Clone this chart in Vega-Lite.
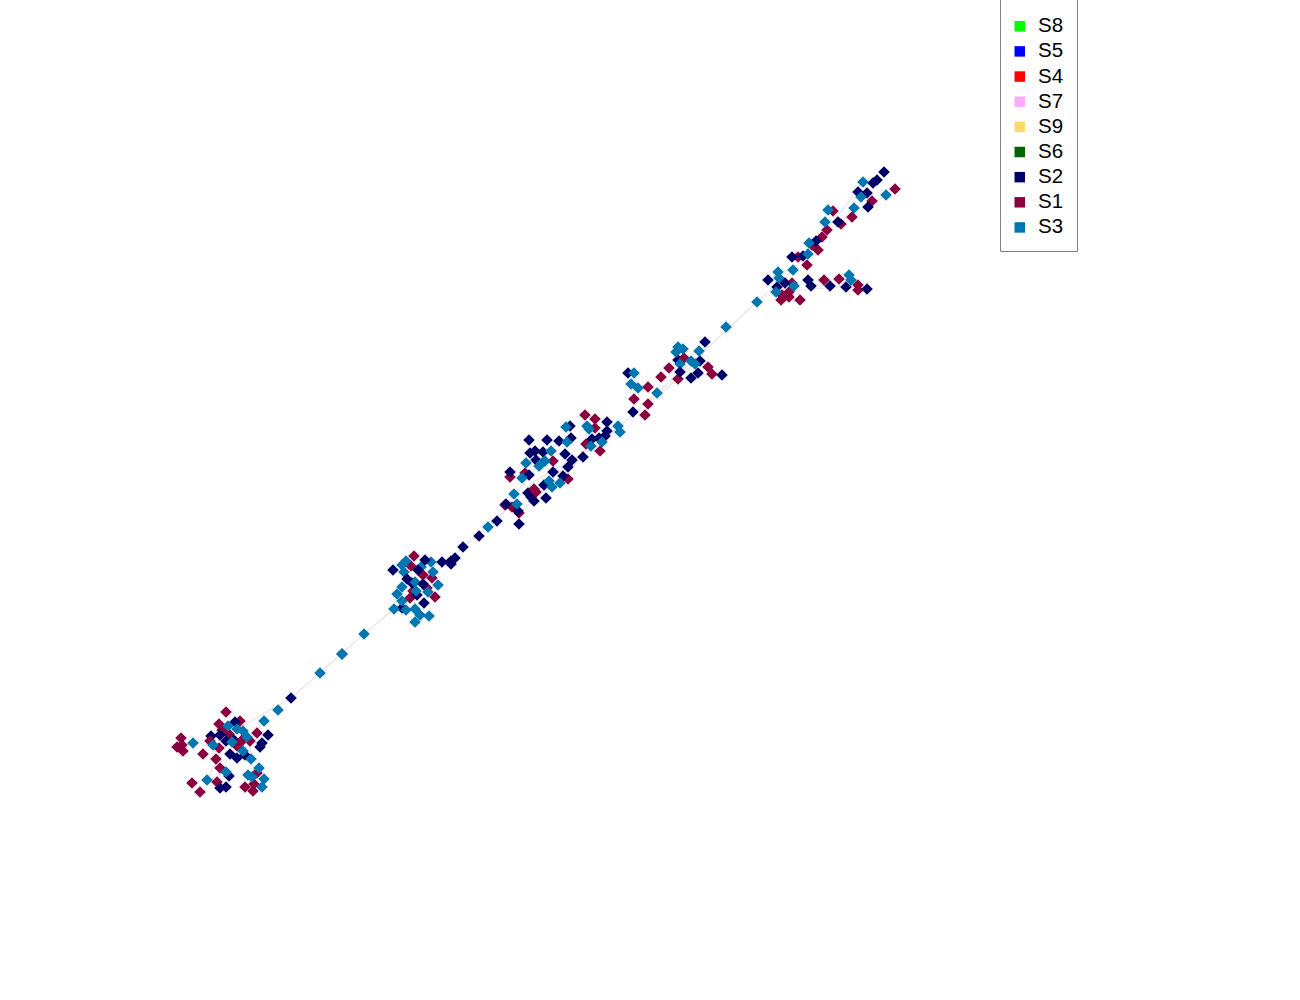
{"$schema":"https://vega.github.io/schema/vega-lite/v6.json","width":1300,"height":1000,"padding":0,"autosize":{"type":"none"},"background":"white","view":{"stroke":null},
"datasets":{"edges":[
{"x":193,"y":743,"x2":237,"y2":729},{"x":237,"y":729,"x2":291,"y2":698},{"x":291,"y":698,"x2":320,"y2":673},{"x":320,"y":673,"x2":364,"y2":634},{"x":364,"y":634,"x2":394,"y2":609},{"x":394,"y":609,"x2":423,"y2":584},{"x":423,"y":584,"x2":463,"y2":547},{"x":463,"y":547,"x2":506,"y2":510},{"x":506,"y":510,"x2":536,"y2":480},{"x":536,"y":480,"x2":602,"y2":442},{"x":602,"y":442,"x2":657,"y2":393},{"x":657,"y":393,"x2":700,"y2":355},{"x":700,"y":355,"x2":757,"y2":302},{"x":757,"y":302,"x2":793,"y2":270},{"x":793,"y":270,"x2":827,"y2":230},{"x":827,"y":230,"x2":868,"y2":207},{"x":868,"y":207,"x2":895,"y2":189},{"x":827,"y":230,"x2":863,"y2":182},{"x":863,"y":182,"x2":884,"y2":172},
{"x":193,"y":743,"x2":177,"y2":747},{"x":250,"y":741,"x2":251,"y2":759},{"x":251,"y":759,"x2":254,"y2":784},{"x":226,"y":741,"x2":207,"y2":780},{"x":207,"y":780,"x2":192,"y2":783},{"x":230,"y":754,"x2":217,"y2":782},{"x":243,"y":751,"x2":264,"y2":721},{"x":418,"y":570,"x2":451,"y2":561},{"x":402,"y":601,"x2":423,"y2":584},{"x":506,"y":505,"x2":559,"y2":441},{"x":519,"y":513,"x2":583,"y2":457},{"x":553,"y":472,"x2":620,"y2":432},{"x":533,"y":495,"x2":607,"y2":431},{"x":648,"y":404,"x2":698,"y2":361},{"x":678,"y":379,"x2":712,"y2":374},{"x":634,"y":373,"x2":638,"y2":388},{"x":780,"y":292,"x2":858,"y2":285},{"x":776,"y":292,"x2":808,"y2":280},{"x":808,"y":280,"x2":851,"y2":280},{"x":785,"y":283,"x2":846,"y2":287},{"x":846,"y":287,"x2":867,"y2":289}
],
"nodes":[
{"x":226,"y":712,"s":"S1"},{"x":219,"y":724,"s":"S1"},{"x":240,"y":721,"s":"S1"},{"x":229,"y":734,"s":"S1"},{"x":222,"y":730,"s":"S1"},{"x":257,"y":733,"s":"S1"},{"x":181,"y":738,"s":"S1"},{"x":177,"y":747,"s":"S1"},{"x":183,"y":751,"s":"S1"},{"x":182,"y":745,"s":"S1"},{"x":219,"y":748,"s":"S1"},{"x":203,"y":754,"s":"S1"},{"x":216,"y":759,"s":"S1"},{"x":220,"y":768,"s":"S1"},{"x":217,"y":782,"s":"S1"},{"x":192,"y":783,"s":"S1"},{"x":200,"y":792,"s":"S1"},{"x":245,"y":787,"s":"S1"},{"x":257,"y":773,"s":"S1"},{"x":254,"y":784,"s":"S1"},{"x":253,"y":791,"s":"S1"},
{"x":291,"y":698,"s":"S2"},{"x":268,"y":735,"s":"S2"},{"x":235,"y":722,"s":"S2"},{"x":211,"y":736,"s":"S2"},{"x":220,"y":735,"s":"S2"},{"x":226,"y":741,"s":"S2"},{"x":234,"y":740,"s":"S2"},{"x":262,"y":743,"s":"S2"},{"x":260,"y":747,"s":"S2"},{"x":230,"y":754,"s":"S2"},{"x":237,"y":758,"s":"S2"},{"x":245,"y":755,"s":"S2"},{"x":229,"y":776,"s":"S2"},{"x":220,"y":788,"s":"S2"},{"x":226,"y":787,"s":"S2"},
{"x":210,"y":741,"s":"S1"},{"x":242,"y":740,"s":"S1"},{"x":237,"y":746,"s":"S1"},{"x":240,"y":743,"s":"S1"},{"x":250,"y":741,"s":"S1"},
{"x":278,"y":710,"s":"S3"},{"x":264,"y":721,"s":"S3"},{"x":228,"y":726,"s":"S3"},{"x":237,"y":729,"s":"S3"},{"x":243,"y":731,"s":"S3"},{"x":193,"y":743,"s":"S3"},{"x":213,"y":745,"s":"S3"},{"x":232,"y":742,"s":"S3"},{"x":247,"y":737,"s":"S3"},{"x":243,"y":751,"s":"S3"},{"x":251,"y":759,"s":"S3"},{"x":226,"y":772,"s":"S3"},{"x":259,"y":768,"s":"S3"},{"x":248,"y":775,"s":"S3"},{"x":252,"y":777,"s":"S3"},{"x":264,"y":779,"s":"S3"},{"x":262,"y":787,"s":"S3"},{"x":207,"y":780,"s":"S3"},
{"x":342,"y":654,"s":"S2"},{"x":320,"y":673,"s":"S3"},{"x":342,"y":654,"s":"S3"},{"x":364,"y":634,"s":"S3"},
{"x":414,"y":556,"s":"S1"},{"x":411,"y":566,"s":"S1"},{"x":432,"y":578,"s":"S1"},{"x":423,"y":575,"s":"S1"},{"x":413,"y":591,"s":"S1"},{"x":427,"y":588,"s":"S1"},{"x":410,"y":598,"s":"S1"},{"x":435,"y":597,"s":"S1"},
{"x":519,"y":524,"s":"S2"},{"x":497,"y":521,"s":"S2"},{"x":479,"y":536,"s":"S2"},{"x":463,"y":547,"s":"S2"},{"x":455,"y":558,"s":"S2"},{"x":451,"y":561,"s":"S2"},{"x":451,"y":564,"s":"S2"},{"x":442,"y":562,"s":"S2"},{"x":393,"y":570,"s":"S2"},{"x":402,"y":608,"s":"S2"},{"x":417,"y":595,"s":"S2"},{"x":412,"y":583,"s":"S2"},
{"x":488,"y":527,"s":"S3"},{"x":406,"y":561,"s":"S3"},{"x":402,"y":565,"s":"S3"},{"x":431,"y":562,"s":"S3"},{"x":421,"y":567,"s":"S3"},{"x":433,"y":572,"s":"S3"},{"x":404,"y":572,"s":"S3"},{"x":415,"y":582,"s":"S3"},{"x":438,"y":585,"s":"S3"},{"x":402,"y":587,"s":"S3"},{"x":416,"y":591,"s":"S3"},{"x":428,"y":592,"s":"S3"},{"x":397,"y":594,"s":"S3"},{"x":402,"y":601,"s":"S3"},{"x":394,"y":609,"s":"S3"},{"x":406,"y":610,"s":"S3"},{"x":415,"y":609,"s":"S3"},{"x":420,"y":615,"s":"S3"},{"x":429,"y":616,"s":"S3"},{"x":415,"y":622,"s":"S3"},
{"x":425,"y":560,"s":"S2"},{"x":418,"y":570,"s":"S2"},{"x":407,"y":579,"s":"S2"},{"x":423,"y":584,"s":"S2"},{"x":424,"y":603,"s":"S2"},
{"x":585,"y":415,"s":"S1"},{"x":595,"y":419,"s":"S1"},{"x":595,"y":428,"s":"S1"},{"x":586,"y":444,"s":"S1"},{"x":600,"y":451,"s":"S1"},{"x":553,"y":461,"s":"S1"},{"x":510,"y":477,"s":"S1"},{"x":525,"y":473,"s":"S1"},{"x":568,"y":479,"s":"S1"},{"x":512,"y":507,"s":"S1"},{"x":519,"y":513,"s":"S1"},{"x":505,"y":505,"s":"S1"},
{"x":510,"y":472,"s":"S2"},{"x":607,"y":422,"s":"S2"},{"x":607,"y":431,"s":"S2"},{"x":605,"y":436,"s":"S2"},{"x":599,"y":438,"s":"S2"},{"x":592,"y":439,"s":"S2"},{"x":583,"y":457,"s":"S2"},{"x":570,"y":426,"s":"S2"},{"x":571,"y":438,"s":"S2"},{"x":559,"y":441,"s":"S2"},{"x":547,"y":440,"s":"S2"},{"x":529,"y":440,"s":"S2"},{"x":530,"y":453,"s":"S2"},{"x":535,"y":451,"s":"S2"},{"x":543,"y":452,"s":"S2"},{"x":565,"y":454,"s":"S2"},{"x":572,"y":460,"s":"S2"},{"x":568,"y":467,"s":"S2"},{"x":536,"y":460,"s":"S2"},{"x":553,"y":472,"s":"S2"},{"x":529,"y":475,"s":"S2"},{"x":563,"y":476,"s":"S2"},{"x":544,"y":485,"s":"S2"},{"x":528,"y":493,"s":"S2"},{"x":531,"y":497,"s":"S2"},{"x":534,"y":501,"s":"S2"},{"x":546,"y":498,"s":"S2"},{"x":506,"y":504,"s":"S2"},{"x":518,"y":511,"s":"S2"},
{"x":534,"y":489,"s":"S1"},{"x":536,"y":492,"s":"S1"},
{"x":618,"y":426,"s":"S3"},{"x":620,"y":432,"s":"S3"},{"x":587,"y":426,"s":"S3"},{"x":589,"y":429,"s":"S3"},{"x":602,"y":442,"s":"S3"},{"x":591,"y":446,"s":"S3"},{"x":566,"y":427,"s":"S3"},{"x":567,"y":442,"s":"S3"},{"x":551,"y":451,"s":"S3"},{"x":526,"y":463,"s":"S3"},{"x":545,"y":461,"s":"S3"},{"x":539,"y":466,"s":"S3"},{"x":542,"y":463,"s":"S3"},{"x":522,"y":478,"s":"S3"},{"x":549,"y":481,"s":"S3"},{"x":552,"y":487,"s":"S3"},{"x":560,"y":483,"s":"S3"},{"x":514,"y":494,"s":"S3"},{"x":517,"y":504,"s":"S3"},
{"x":633,"y":412,"s":"S2"},{"x":705,"y":342,"s":"S2"},{"x":678,"y":360,"s":"S2"},{"x":700,"y":361,"s":"S2"},{"x":628,"y":373,"s":"S2"},
{"x":684,"y":358,"s":"S1"},{"x":669,"y":368,"s":"S1"},{"x":708,"y":367,"s":"S1"},{"x":712,"y":374,"s":"S1"},{"x":678,"y":379,"s":"S1"},{"x":661,"y":377,"s":"S1"},{"x":648,"y":387,"s":"S1"},{"x":634,"y":399,"s":"S1"},{"x":648,"y":404,"s":"S1"},{"x":645,"y":415,"s":"S1"},
{"x":726,"y":327,"s":"S3"},{"x":699,"y":351,"s":"S3"},{"x":678,"y":347,"s":"S3"},{"x":683,"y":349,"s":"S3"},{"x":676,"y":352,"s":"S3"},{"x":691,"y":361,"s":"S3"},{"x":695,"y":364,"s":"S3"},{"x":680,"y":364,"s":"S3"},{"x":634,"y":373,"s":"S3"},{"x":631,"y":384,"s":"S3"},{"x":638,"y":388,"s":"S3"},{"x":657,"y":393,"s":"S3"},
{"x":722,"y":375,"s":"S2"},{"x":698,"y":373,"s":"S2"},{"x":691,"y":378,"s":"S2"},{"x":680,"y":372,"s":"S2"},
{"x":895,"y":189,"s":"S1"},{"x":872,"y":201,"s":"S1"},{"x":833,"y":211,"s":"S1"},{"x":852,"y":217,"s":"S1"},{"x":841,"y":224,"s":"S1"},{"x":827,"y":230,"s":"S1"},{"x":822,"y":237,"s":"S1"},{"x":812,"y":245,"s":"S1"},{"x":818,"y":250,"s":"S1"},{"x":798,"y":257,"s":"S1"},{"x":807,"y":265,"s":"S1"},{"x":824,"y":280,"s":"S1"},{"x":839,"y":279,"s":"S1"},{"x":792,"y":283,"s":"S1"},{"x":858,"y":285,"s":"S1"},{"x":858,"y":290,"s":"S1"},{"x":789,"y":292,"s":"S1"},{"x":782,"y":295,"s":"S1"},{"x":789,"y":297,"s":"S1"},{"x":781,"y":300,"s":"S1"},{"x":800,"y":300,"s":"S1"},
{"x":884,"y":172,"s":"S2"},{"x":877,"y":180,"s":"S2"},{"x":873,"y":183,"s":"S2"},{"x":858,"y":192,"s":"S2"},{"x":867,"y":193,"s":"S2"},{"x":868,"y":207,"s":"S2"},{"x":838,"y":222,"s":"S2"},{"x":816,"y":241,"s":"S2"},{"x":792,"y":257,"s":"S2"},{"x":803,"y":256,"s":"S2"},{"x":768,"y":280,"s":"S2"},{"x":808,"y":280,"s":"S2"},{"x":785,"y":283,"s":"S2"},{"x":777,"y":287,"s":"S2"},{"x":811,"y":286,"s":"S2"},{"x":830,"y":286,"s":"S2"},{"x":846,"y":287,"s":"S2"},{"x":867,"y":289,"s":"S2"},
{"x":863,"y":182,"s":"S3"},{"x":886,"y":195,"s":"S3"},{"x":861,"y":197,"s":"S3"},{"x":854,"y":208,"s":"S3"},{"x":828,"y":210,"s":"S3"},{"x":825,"y":222,"s":"S3"},{"x":809,"y":243,"s":"S3"},{"x":808,"y":254,"s":"S3"},{"x":793,"y":270,"s":"S3"},{"x":778,"y":272,"s":"S3"},{"x":779,"y":278,"s":"S3"},{"x":849,"y":275,"s":"S3"},{"x":851,"y":280,"s":"S3"},{"x":794,"y":286,"s":"S3"},{"x":776,"y":292,"s":"S3"},{"x":757,"y":302,"s":"S3"}
]},
"layer":[
{"data":{"name":"edges"},"mark":{"type":"rule","color":"#e6e6e6","strokeWidth":1.2},"encoding":{"x":{"field":"x","type":"quantitative","scale":{"domain":[0,1300],"nice":false,"zero":false},"axis":null},"y":{"field":"y","type":"quantitative","scale":{"domain":[1000,0],"nice":false,"zero":false},"axis":null},"x2":{"field":"x2"},"y2":{"field":"y2"}}},
{"data":{"name":"nodes"},"mark":{"type":"point","shape":"diamond","filled":true,"size":135,"opacity":1,"strokeWidth":0},"encoding":{"x":{"field":"x","type":"quantitative","axis":null},"y":{"field":"y","type":"quantitative","axis":null},"color":{"field":"s","type":"nominal","scale":{"domain":["S8","S5","S4","S7","S9","S6","S2","S1","S3"],"range":["#00ff00","#0000ff","#ff0000","#ffaaff","#ffd966","#006400","#000066","#8b0040","#0077b0"]},"legend":{"title":" ","titleFontSize":1,"titlePadding":3,"orient":"none","legendX":1000,"legendY":-1,"symbolType":"square","symbolSize":110,"symbolStrokeWidth":0,"symbolOpacity":1,"symbolOffset":-3.5,"labelFont":"Liberation Sans","labelFontSize":20.5,"labelColor":"#000000","labelOffset":8,"labelLimit":60,"rowPadding":4.15,"padding":13,"strokeColor":"#808080","fillColor":"#ffffff","offset":0,"values":["S8","S5","S4","S7","S9","S6","S2","S1","S3"]}}}}
]}
